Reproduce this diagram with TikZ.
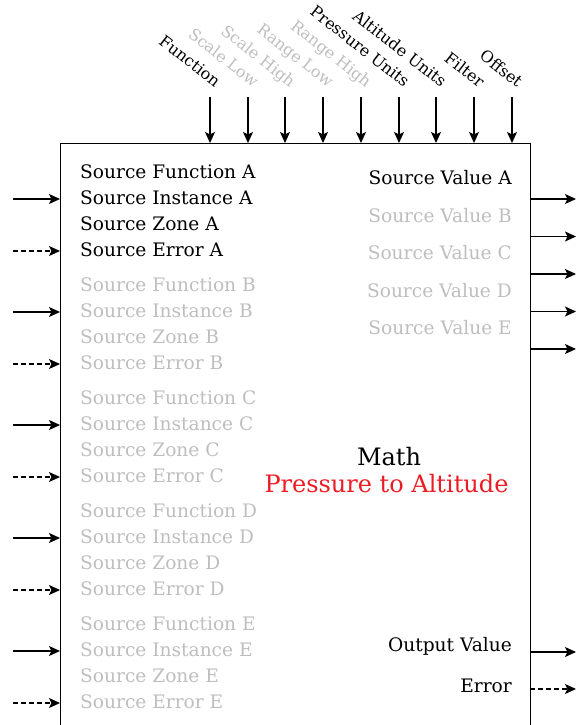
\documentclass[tikz,border=0pt]{standalone}
\usepackage{fontspec}
\setmainfont{DejaVu Serif}
\usetikzlibrary{arrows.meta}
\definecolor{dim}{RGB}{190,190,190}
\definecolor{redtxt}{RGB}{237,28,36}
\begin{document}
\begin{tikzpicture}[x=1pt,y=-1pt,
  lbl/.style={inner sep=0pt,font=\fontsize{18.6}{22}\selectfont},
  big/.style={inner sep=0pt,font=\fontsize{24}{28}\selectfont},
  lft/.style={lbl,anchor=west},
  rgt/.style={lbl,anchor=east},
  toplbl/.style={inner sep=0pt,font=\fontsize{16}{19}\selectfont,anchor=base east,rotate=-38},
  arr/.style={-{Stealth[length=11pt,width=10pt,inset=2.5pt]},line width=1.1pt},
  darr/.style={arr,dash pattern=on 5pt off 3pt}]
\useasboundingbox (0,0) rectangle (578,725);
\node[draw,line width=1pt,minimum width=470pt,minimum height=640pt,anchor=north west,inner sep=0pt] (box) at (60,143) {};
% top inputs
\foreach \x/\t/\c [count=\i] in {210/Function/black,248/Scale Low/dim,285/Scale High/dim,323/Range Low/dim,361/Range High/dim,399/Pressure Units/black,436/Altitude Units/black,474/Filter/black,512/Offset/black}{
  \coordinate (t\i) at (\x,97);
  \coordinate (b\i) at (\x,143);
  \draw[arr] (t\i) -- (b\i);
  \node[toplbl,text=\c] (tl\i) at (\x+5,88) {\t};
}
% left inputs
\foreach \L [count=\i from 0] in {A,B,C,D,E}{
  \pgfmathsetmacro{\yy}{172+113*\i}
  \ifnum\i=0 \def\cc{black}\else\def\cc{dim}\fi
  \node[lft,text=\cc] (sf\L) at (80,\yy) {Source Function \L};
  \node[lft,text=\cc] (si\L) at (80,\yy+26) {Source Instance \L};
  \node[lft,text=\cc] (sz\L) at (80,\yy+52) {Source Zone \L};
  \node[lft,text=\cc] (se\L) at (80,\yy+78) {Source Error \L};
  \coordinate (ia\L) at (13,\yy+27);
  \coordinate (ib\L) at (60,\yy+27);
  \coordinate (ea\L) at (13,\yy+79);
  \coordinate (eb\L) at (60,\yy+79);
  \draw[arr] (ia\L) -- (ib\L);
  \draw[darr] (ea\L) -- (eb\L);
}
% right outputs
\foreach \L [count=\i from 0] in {A,B,C,D,E}{
  \pgfmathsetmacro{\yy}{178+37.5*\i}
  \ifnum\i=0 \def\cc{black}\else\def\cc{dim}\fi
  \node[rgt,text=\cc] (sv\L) at (512,\yy) {Source Value \L};
  \coordinate (oa\L) at (530,\yy+21);
  \coordinate (ob\L) at (576,\yy+21);
  \draw[arr] (oa\L) -- (ob\L);
}
\node[big,anchor=base] (math) at (389,465) {Math};
\node[big,anchor=base,text=redtxt] (ptoa) at (386.5,492) {Pressure to Altitude};
\node[rgt] (outv) at (512,646) {Output Value};
\node[rgt] (err) at (512,686) {Error};
\coordinate (ova) at (530,652);
\coordinate (ovb) at (576,652);
\coordinate (era) at (530,689);
\coordinate (erb) at (576,689);
\draw[arr] (ova) -- (ovb);
\draw[darr] (era) -- (erb);
\end{tikzpicture}
\end{document}
